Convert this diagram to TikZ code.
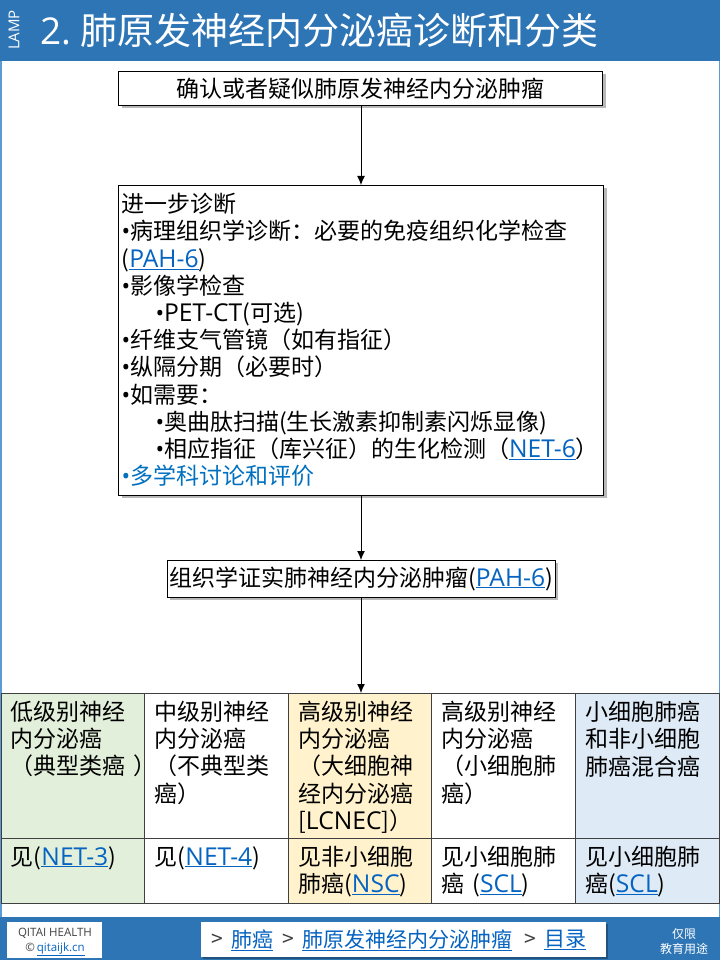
\documentclass[tikz,border=0pt]{standalone}
\usepackage{fontspec}
\setmainfont{Noto Sans CJK SC}
\newfontfamily\latf{Open Sans}
\usetikzlibrary{shadows,arrows.meta}
\definecolor{barblue}{HTML}{2E75B6}
\definecolor{edgeblue}{HTML}{5B9BD5}
\definecolor{linkblue}{HTML}{0563C1}
\definecolor{mdtblue}{HTML}{0070C0}
\definecolor{cgreen}{HTML}{E2EFDA}
\definecolor{cyellow}{HTML}{FFF2CC}
\definecolor{cblue}{HTML}{DEEAF6}
\definecolor{grid}{HTML}{404040}
\newcommand{\mainf}{\fontsize{23}{27.2}\selectfont\lineskiplimit=-100pt\relax}
\newcommand{\lnk}[1]{\textcolor{linkblue}{\underline{#1}}}
\newcommand{\ltn}[1]{{\latf\fontsize{24.6}{27.2}\selectfont #1}}
\newcommand{\bul}{{\latf •}}
\tikzset{
  px/.style={x=1pt,y=-1pt},
  shbox/.style={draw=black,line width=1pt,fill=white,outer sep=0pt,inner sep=0pt,anchor=north west,
    drop shadow={shadow xshift=3pt,shadow yshift=-3pt,opacity=0.28,fill=black}},
  flow/.style={-{Latex[length=9pt,width=8pt]},line width=1pt,black},
  cell/.style={draw=grid,line width=1pt,outer sep=0pt,anchor=north west,inner xsep=0pt,inner ysep=0pt,minimum width=143.6pt},
  celltxt/.style={anchor=north west,inner sep=0pt,font=\mainf,align=left,text width=150pt},
  navt/.style={anchor=west,inner sep=0pt,font=\fontsize{21}{25}\selectfont},
  whitepanel/.style={fill=white,draw=none,anchor=north west,inner sep=0pt,outer sep=0pt}
}
\begin{document}
\begin{tikzpicture}[px]
\useasboundingbox (0,0) rectangle (720,960);
\fill[white] (0,0) rectangle (720,960);
\fill[edgeblue] (0,0) rectangle (1.5,960);
\fill[edgeblue] (718.5,0) rectangle (720,960);
\fill[barblue] (0,0) rectangle (720,61);
\fill[barblue] (0,917) rectangle (720,960);
\node[rotate=90,text=white,inner sep=0pt,font=\latf\fontsize{15}{17}\selectfont] (lamp) at (14,30) {LAMP};
\node[anchor=west,text=white,inner sep=0pt,font=\fontsize{37}{42}\selectfont] (title) at (40,30) {{\latf 2.}\hspace{9pt}肺原发神经内分泌癌诊断和分类};

\node[shbox,minimum width=484pt,minimum height=34pt,font=\mainf] (b1) at (118.5,71.5) {确认或者疑似肺原发神经内分泌肿瘤};

\node[shbox,minimum width=485pt,minimum height=310pt,text width=479pt,align=left,font=\mainf] (b2) at (118.5,185) {%
进一步诊断\\
\bul 病理组织学诊断：必要的免疫组织化学检查\\
(\lnk{\ltn{PAH-6}})\\
\bul 影像学检查\\
\hspace*{34pt}\bul\ltn{PET-CT}(可选)\\
\bul 纤维支气管镜（如有指征）\\
\bul 纵隔分期（必要时）\\
\bul 如需要：\\
\hspace*{34pt}\bul 奥曲肽扫描(生长激素抑制素闪烁显像)\\
\hspace*{34pt}\bul 相应指征（库兴征）的生化检测（\lnk{\ltn{NET-6}}）\\
\textcolor{mdtblue}{\bul 多学科讨论和评价}};

\node[shbox,minimum width=388pt,minimum height=37pt,font=\mainf] (b3) at (167,560) {组织学证实肺神经内分泌肿瘤(\lnk{\ltn{PAH-6}})};

% table
\node[cell,fill=cgreen,minimum height=145pt] (a1) at (1,693) {};
\node[cell,fill=white,minimum height=145pt] (a2) at (144.6,693) {};
\node[cell,fill=cyellow,minimum height=145pt] (a3) at (288.2,693) {};
\node[cell,fill=white,minimum height=145pt] (a4) at (431.8,693) {};
\node[cell,fill=cblue,minimum height=145pt] (a5) at (575.4,693) {};
\node[cell,fill=cgreen,minimum height=65pt] (c1) at (1,838) {};
\node[cell,fill=white,minimum height=65pt] (c2) at (144.6,838) {};
\node[cell,fill=cyellow,minimum height=65pt] (c3) at (288.2,838) {};
\node[cell,fill=white,minimum height=65pt] (c4) at (431.8,838) {};
\node[cell,fill=cblue,minimum height=65pt] (c5) at (575.4,838) {};

\node[celltxt] (ta1) at (10.5,701) {低级别神经\\内分泌癌\\（典型类癌 ）};
\node[celltxt] (ta2) at (154.5,701) {中级别神经\\内分泌癌\\（不典型类\\癌）};
\node[celltxt] (ta3) at (298,701) {高级别神经\\内分泌癌\\（大细胞神\\经内分泌癌\\{[}\ltn{LCNEC}{]}）};
\node[celltxt] (ta4) at (441.5,701) {高级别神经\\内分泌癌\\（小细胞肺\\癌）};
\node[celltxt] (ta5) at (585,701) {小细胞肺癌\\和非小细胞\\肺癌混合癌};
\node[celltxt] (tc1) at (10.5,846) {见(\lnk{\ltn{NET-3}})};
\node[celltxt] (tc2) at (154.5,846) {见(\lnk{\ltn{NET-4}})};
\node[celltxt] (tc3) at (298,846) {见非小细胞\\肺癌(\lnk{\ltn{NSC}})};
\node[celltxt] (tc4) at (441.5,846) {见小细胞肺\\癌 (\lnk{\ltn{SCL}})};
\node[celltxt] (tc5) at (585,846) {见小细胞肺\\癌(\lnk{\ltn{SCL}})};

\draw[flow] (b1.south -| 361,0) -- (b2.north -| 361,0);
\draw[flow] (b2.south -| 361,0) -- (b3.north -| 361,0);
\draw[flow] (b3.south -| 361,0) -- (a3.north -| 361,0);

% footer
\node[whitepanel,minimum width=95pt,minimum height=36pt] (logo) at (7,922) {};
\node[inner sep=0pt,text=grid,font=\latf\fontsize{11.5}{14}\selectfont] (logo1) at (55,933) {QITAI HEALTH};
\node[inner sep=0pt,text=grid,font=\latf\fontsize{11.5}{14}\selectfont] (logo2) at (55,949) {©\,\lnk{qitaijk.cn}};
\node[whitepanel,minimum width=405pt,minimum height=35pt,drop shadow={shadow xshift=2pt,shadow yshift=-2pt,opacity=0.3,fill=black}] (nav) at (201,922) {};
\node[navt,text=grid] (n1) at (211,940) {>};
\node[navt] (n2) at (231,940) {\lnk{肺癌}};
\node[navt,text=grid] (n3) at (282,940) {>};
\node[navt] (n4) at (302,940) {\lnk{肺原发神经内分泌肿瘤}};
\node[navt,text=grid] (n5) at (524,940) {>};
\node[navt] (n6) at (544,940) {\lnk{目录}};
\node[inner sep=0pt,text=white,font=\fontsize{12}{15}\selectfont] (use1) at (684,934) {仅限};
\node[inner sep=0pt,text=white,font=\fontsize{12}{15}\selectfont] (use2) at (684,949) {教育用途};
\end{tikzpicture}
\end{document}
